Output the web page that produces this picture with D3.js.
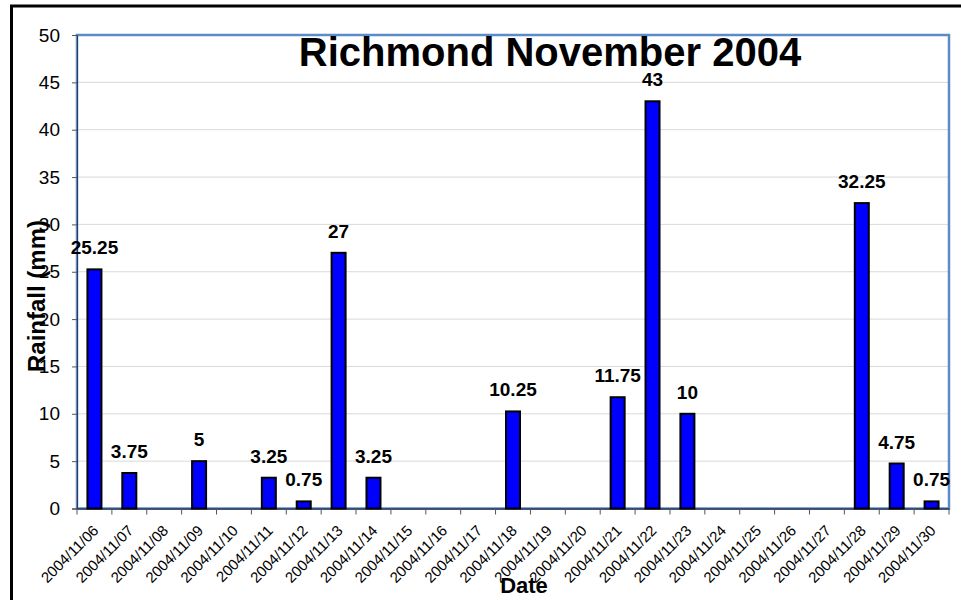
<!DOCTYPE html>
<html>
<head>
<meta charset="utf-8">
<script src="https://cdn.jsdelivr.net/npm/d3@7"></script>
<style>
  html, body { margin: 0; padding: 0; background: #fff; }
  svg { display: block; }
  text { font-family: "Liberation Sans", Arial, sans-serif; }
</style>
</head>
<body>
<svg id="chart" width="961" height="600"></svg>
<script>
const dates = ["2004/11/06","2004/11/07","2004/11/08","2004/11/09","2004/11/10","2004/11/11","2004/11/12","2004/11/13","2004/11/14","2004/11/15","2004/11/16","2004/11/17","2004/11/18","2004/11/19","2004/11/20","2004/11/21","2004/11/22","2004/11/23","2004/11/24","2004/11/25","2004/11/26","2004/11/27","2004/11/28","2004/11/29","2004/11/30"];
const rainfall = [25.25,3.75,0,5,0,3.25,0.75,27,3.25,0,0,0,10.25,0,0,11.75,43,10,0,0,0,0,32.25,4.75,0.75];
const yTicks = [0,5,10,15,20,25,30,35,40,45,50];
const titleText = "Richmond November 2004";
const xTitle = "Date";
const yTitle = "Rainfall (mm)";

const svg = d3.select("#chart");
const plot = {left: 77, top: 35, right: 949, bottom: 508.5};

// outer frame
svg.append("rect").attr("x", 11.5).attr("y", 6).attr("width", 960).attr("height", 600)
  .attr("fill", "none").attr("stroke", "#000").attr("stroke-width", 3);

const x = d3.scaleBand().domain(dates).range([plot.left, plot.right]).paddingInner(0).paddingOuter(0);
const y = d3.scaleLinear().domain([0, 50]).range([plot.bottom, plot.top]);

// gridlines
svg.append("g").selectAll("line").data(yTicks.filter(d => d > 0)).join("line")
  .attr("x1", plot.left).attr("x2", plot.right)
  .attr("y1", d => y(d)).attr("y2", d => y(d))
  .attr("stroke", "#d9d9d9").attr("stroke-width", 1);

// plot border (blue)
svg.append("rect").attr("x", plot.left).attr("y", plot.top)
  .attr("width", plot.right - plot.left).attr("height", plot.bottom - plot.top)
  .attr("fill", "none").attr("stroke", "#5b8bc9").attr("stroke-width", 2.5);

// y axis
const yAxis = d3.axisLeft(y).tickValues(yTicks).tickSize(5).tickPadding(12).tickFormat(d3.format("d"));
const gy = svg.append("g").attr("transform", `translate(${plot.left},0)`).call(yAxis);
gy.select(".domain").attr("stroke", "#2b3a55").attr("stroke-width", 1);
gy.selectAll(".tick line").attr("stroke", "#555");
gy.selectAll(".tick text").attr("font-size", 19).attr("fill", "#000")
  .attr("font-family", "Liberation Sans, Arial, sans-serif");

// x axis
const xAxis = d3.axisBottom(x).tickSize(0).tickFormat(d => d);
const gx = svg.append("g").attr("transform", `translate(0,${plot.bottom})`).call(xAxis);
gx.select(".domain").attr("stroke", "#2b3a55").attr("stroke-width", 1.5);
gx.selectAll(".tick text")
  .attr("font-size", 15).attr("fill", "#000")
  .attr("font-family", "Liberation Sans, Arial, sans-serif")
  .attr("text-anchor", "end")
  .attr("dy", null).attr("y", 0)
  .attr("transform", "translate(5,23) rotate(-45)");
// category boundary ticks
const bounds = d3.range(dates.length + 1).map(i => plot.left + i * x.step());
svg.append("g").selectAll("line").data(bounds).join("line")
  .attr("x1", d => d).attr("x2", d => d)
  .attr("y1", plot.bottom).attr("y2", plot.bottom + 6)
  .attr("stroke", "#555").attr("stroke-width", 1);

// bars
const bw = 14;
const pts = dates.map((d, i) => ({d, v: rainfall[i]})).filter(o => o.v > 0);
svg.append("g").selectAll("rect").data(pts).join("rect")
  .attr("x", o => x(o.d) + x.bandwidth() / 2 - bw / 2)
  .attr("y", o => y(o.v))
  .attr("width", bw)
  .attr("height", o => y(0) - y(o.v))
  .attr("fill", "#0000ff").attr("stroke", "#000").attr("stroke-width", 2);

// labels
svg.append("g").selectAll("text").data(pts).join("text")
  .attr("x", o => x(o.d) + x.bandwidth() / 2)
  .attr("y", o => y(o.v) - 15)
  .attr("text-anchor", "middle")
  .attr("font-size", 19).attr("font-weight", "bold")
  .text(o => o.v);

// title
svg.append("text").attr("x", 550).attr("y", 66).attr("text-anchor", "middle")
  .attr("font-size", 40).attr("font-weight", "bold").text(titleText);

// axis titles
svg.append("text").attr("x", 524).attr("y", 593).attr("text-anchor", "middle")
  .attr("font-size", 22).attr("font-weight", "bold").text(xTitle);
svg.append("text").attr("transform", "translate(45,296) rotate(-90)").attr("text-anchor", "middle")
  .attr("font-size", 24).attr("font-weight", "bold").text(yTitle);
</script>
</body>
</html>
